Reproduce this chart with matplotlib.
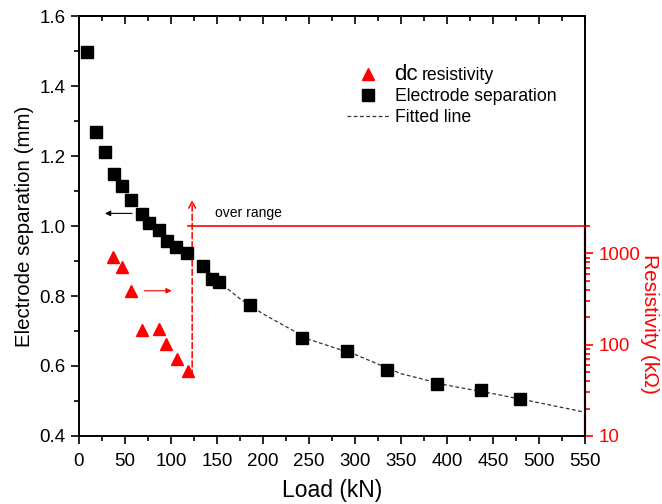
import numpy as np
import matplotlib
matplotlib.use("Agg")
import matplotlib.pyplot as plt
from matplotlib.ticker import MultipleLocator, NullFormatter, FixedLocator, FormatStrFormatter
from matplotlib.font_manager import FontProperties

plt.rcParams['font.family'] = ['Liberation Sans', 'DejaVu Sans']

# electrode separation (squares, left axis)
sep_load = [8.4, 18.5, 28.3, 37.7, 46.7, 56.5, 68.1, 76.4, 86.6, 95.3, 105.4, 117.4,
            134.4, 144.9, 152.5, 185.9, 242.4, 291.0, 334.4, 389.5, 437.3, 479.3]
sep_mm = [1.496, 1.269, 1.212, 1.149, 1.115, 1.074, 1.034, 1.009, 0.989, 0.958, 0.939, 0.924,
          0.886, 0.849, 0.841, 0.774, 0.681, 0.644, 0.589, 0.548, 0.531, 0.506]

# fitted line
fit_load = [132, 150, 175, 200, 250, 300, 350, 400, 450, 500, 550]
fit_mm = [0.893, 0.845, 0.792, 0.749, 0.676, 0.633, 0.578, 0.545, 0.521, 0.495, 0.468]

# dc resistivity (triangles, right log axis, kOhm)
res_load = [37, 47, 57, 69, 87, 95, 106, 118]
res_kohm = [920, 705, 390, 145, 148, 102, 69, 51]

fig = plt.figure(figsize=(6.62, 5.04), dpi=100)
ax = fig.add_axes([79/662, 68/504, 506/662, 420/504])
ax2 = ax.twinx()

# left axis
ax.plot(sep_load, sep_mm, 's', color='black', ms=8, zorder=5, label='Electrode separation')
ax.plot(fit_load, fit_mm, color='#333333', lw=0.9, ls=(0, (3, 2)), zorder=4, label='Fitted line')
ax.set_xlim(0, 550)
ax.set_ylim(0.4, 1.6)
ax.xaxis.set_major_locator(MultipleLocator(50))
ax.xaxis.set_minor_locator(MultipleLocator(25))
ax.yaxis.set_major_locator(MultipleLocator(0.2))
ax.yaxis.set_minor_locator(MultipleLocator(0.1))
ax.yaxis.set_major_formatter(FormatStrFormatter('%.1f'))
ax.tick_params(which='both', direction='out', labelsize=13.5, width=1.2)
ax.tick_params(which='major', length=6)
ax.tick_params(which='minor', length=3.5)
ax.tick_params(axis='x', pad=6)
for sp in ax.spines.values():
    sp.set_linewidth(1.4)
ax.set_xlabel('Load (kN)', fontsize=16.5, labelpad=7)
ax.set_ylabel('Electrode separation (mm)', fontsize=14.8)

# top ticks point inward
top = ax.secondary_xaxis('top')
top.xaxis.set_major_locator(MultipleLocator(50))
top.xaxis.set_minor_locator(MultipleLocator(25))
top.tick_params(which='both', direction='in', labeltop=False, width=1.2)
top.tick_params(which='major', length=6)
top.tick_params(which='minor', length=3.5)
top.spines['top'].set_linewidth(1.4)

# right log axis
ax2.plot(res_load, res_kohm, '^', color='red', ms=8.5, zorder=5, label='dc resistivity')
ax2.set_yscale('log')
ax2.set_ylim(10, 4e5)
ax2.yaxis.set_major_locator(FixedLocator([10, 100, 1000]))
ax2.yaxis.set_major_formatter(FormatStrFormatter('%d'))
ax2.yaxis.set_minor_locator(FixedLocator([v * d for d in (10, 100, 1000) for v in range(2, 10)][:17]))
ax2.yaxis.set_minor_formatter(NullFormatter())
ax2.tick_params(axis='y', which='both', colors='red', labelcolor='red', labelsize=13.5, width=1.2)
ax2.tick_params(which='major', length=6)
ax2.tick_params(which='minor', length=3.5)
ax2.spines['right'].set_color('red')
ax2.spines['right'].set_linewidth(1.6)
ax2.spines['right'].set_bounds(10, 2000)
for s in ('left', 'top', 'bottom'):
    ax2.spines[s].set_visible(False)
ax2.set_ylabel('Resistivity (k\u03a9)', fontsize=15, color='red', rotation=270, va='center')
ax2.yaxis.set_label_coords(1.128, 0.267)

# over range markers
ax.plot([119, 550], [1.0, 1.0], color='red', lw=1.2, zorder=3)
ax.annotate('', xy=(123, 1.075), xytext=(123, 0.571),
            arrowprops=dict(arrowstyle='->', color='red', lw=1.1, ls=(0, (4, 2)),
                            shrinkA=0, shrinkB=0, mutation_scale=12))
ax.text(148, 1.037, 'over range', fontsize=10, va='center')
ax.annotate('', xy=(28.3, 1.036), xytext=(57.6, 1.036),
            arrowprops=dict(arrowstyle='-|>', color='black', lw=0.8,
                            shrinkA=0, shrinkB=0, mutation_scale=8))
ax.annotate('', xy=(100.7, 0.815), xytext=(70.7, 0.815),
            arrowprops=dict(arrowstyle='-|>', color='red', lw=0.8,
                            shrinkA=0, shrinkB=0, mutation_scale=8))

# legend
leg_size = 12.7
h2, l2 = ax2.get_legend_handles_labels()
h1, l1 = ax.get_legend_handles_labels()
leg = ax.legend(h2 + h1, l2 + l1, loc='upper left', frameon=False, fontsize=leg_size,
                bbox_to_anchor=((347 - 79) / 506, (436 - 67) / 420),
                borderaxespad=0, borderpad=0, handlelength=2.4, handletextpad=0.3,
                labelspacing=0.24)
ax.set_zorder(ax2.get_zorder() + 1)
ax.patch.set_visible(False)

# "dc" is drawn bigger than the rest of the first label
fig.canvas.draw()
renderer = fig.canvas.get_renderer()
t0 = leg.get_texts()[0]
bb = t0.get_window_extent(renderer)
_, _, lp_d = renderer.get_text_width_height_descent('lp', FontProperties(family=['Liberation Sans'], size=leg_size), False)
base = (bb.y0 + lp_d) / fig.bbox.height
t0.set_text('')
tdc = fig.text(bb.x0 / fig.bbox.width, base, 'dc', fontsize=16, va='baseline')
fig.canvas.draw()
bdc = tdc.get_window_extent(renderer)
fig.text(bdc.x1 / fig.bbox.width + 0.005, base, 'resistivity', fontsize=leg_size, va='baseline')

fig.savefig('out.png', dpi=100)
